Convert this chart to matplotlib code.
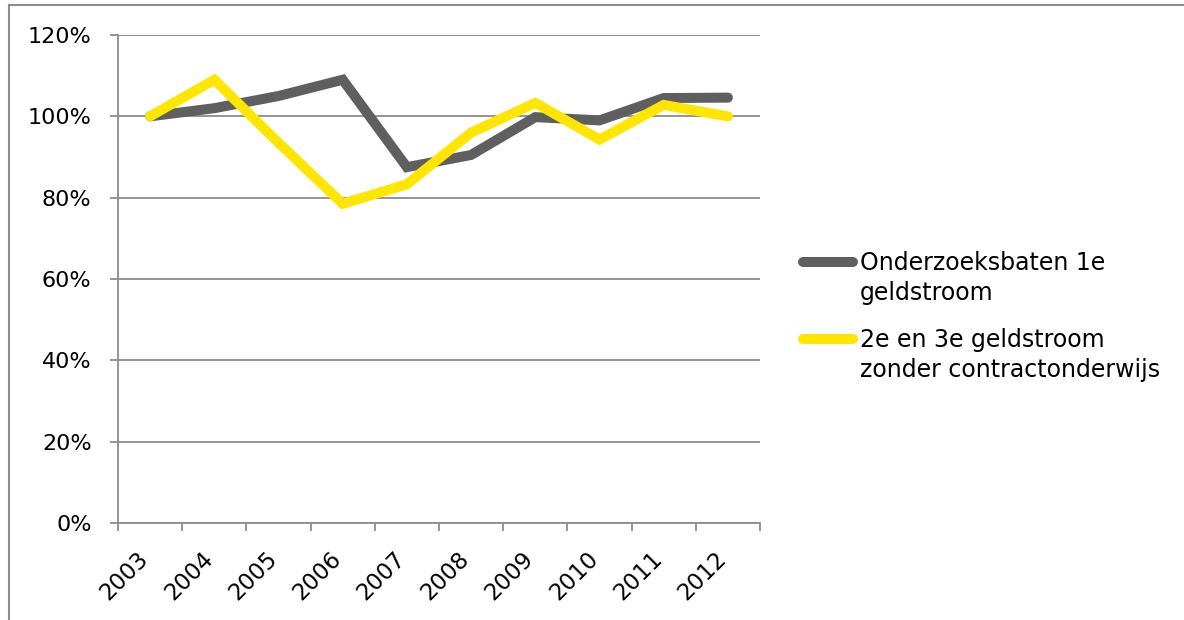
import matplotlib
matplotlib.use('Agg')
import matplotlib.pyplot as plt
from matplotlib.lines import Line2D
from matplotlib.transforms import ScaledTranslation
import numpy as np

# chart data
years = ['2003', '2004', '2005', '2006', '2007', '2008', '2009', '2010', '2011', '2012']
eerste_geldstroom = [100, 102, 105, 109, 87.5, 90.5, 99.8, 99, 104.5, 104.6]
tweede_derde = [100, 109, 93.5, 78.5, 83.3, 96, 103.3, 94.3, 102.8, 100]
series_labels = ['Onderzoeksbaten 1e\ngeldstroom', '2e en 3e geldstroom\nzonder contractonderwijs']
y_ticks = [0, 20, 40, 60, 80, 100, 120]

dark = '#5f5f5f'
yellow = '#ffe600'
grid_col = '#8c8c8c'

fig = plt.figure(figsize=(11.84, 6.2), dpi=100)
ax = fig.add_axes([118/1184, 1 - 523/620, (760-118)/1184, (523-35)/620])

x = np.arange(len(years))
ax.plot(x, eerste_geldstroom, color=dark, lw=7.2, solid_capstyle='round', solid_joinstyle='miter', zorder=3)
ax.plot(x, tweede_derde, color=yellow, lw=7.2, solid_capstyle='round', solid_joinstyle='miter', zorder=4)

ax.set_xlim(-0.5, len(years) - 0.5)
ax.set_ylim(0, 120)
ax.set_yticks(y_ticks)
ax.set_yticklabels([f'{v}%' for v in y_ticks])
ax.set_xticks(x)
ax.set_xticklabels(years, rotation=45, ha='right', va='center', rotation_mode='anchor')
ax.set_xticks(np.arange(len(years) + 1) - 0.5, minor=True)

ax.tick_params(axis='x', which='major', length=0, pad=23, labelsize=16.5)
ax.tick_params(axis='x', which='minor', length=6, width=1.3, color=grid_col)
ax.tick_params(axis='y', length=6, width=1.3, color=grid_col, labelsize=16, pad=13)

# nudge year labels a little to the left
shift = ScaledTranslation(-5/100, 0, fig.dpi_scale_trans)
for lbl in ax.get_xticklabels():
    lbl.set_transform(lbl.get_transform() + shift)

ax.grid(axis='y', color=grid_col, lw=1.3)
ax.set_axisbelow(True)
for s in ['top', 'right']:
    ax.spines[s].set_visible(False)
for s in ['left', 'bottom']:
    ax.spines[s].set_color(grid_col)
    ax.spines[s].set_linewidth(1.3)

# legend, drawn by hand so the key sits on the first text line
leg_y = [262/620, 339/620]
for col, lab, yy in zip([dark, yellow], series_labels, leg_y):
    fig.add_artist(Line2D([803/1184, 853/1184], [1 - yy, 1 - yy], color=col, lw=7.2,
                          solid_capstyle='round', transform=fig.transFigure))
    fig.text(860/1184, 1 - yy + 0.018, lab, fontsize=17, va='top', ha='left', linespacing=1.35)

# outer frame (left and top edges)
fig.add_artist(Line2D([9/1184, 9/1184], [0, 1 - 5/620], color=grid_col, lw=1.5, transform=fig.transFigure))
fig.add_artist(Line2D([9/1184, 1], [1 - 5/620, 1 - 5/620], color=grid_col, lw=1.5, transform=fig.transFigure))

fig.savefig('out.png', dpi=100)
